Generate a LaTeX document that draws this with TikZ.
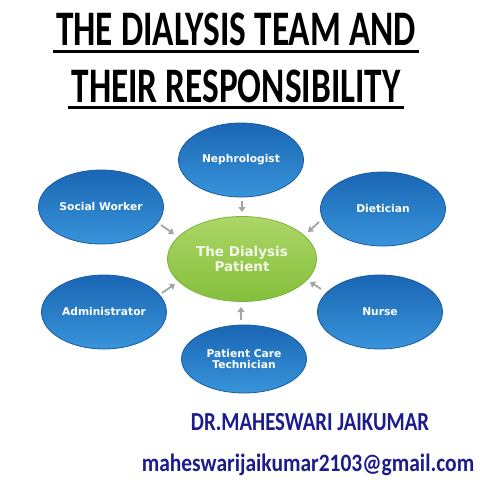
\documentclass[tikz,border=0pt]{standalone}
\usepackage{fontspec}
\setmainfont{Carlito}
\newfontfamily\lblfont{DejaVu Sans}
\usetikzlibrary{shapes.geometric,arrows.meta}
\definecolor{bluedark}{HTML}{1A66B4}
\definecolor{bluelight}{HTML}{3894DA}
\definecolor{blueedge}{HTML}{1B5CA2}
\definecolor{greenlight}{HTML}{ADD667}
\definecolor{greendark}{HTML}{84BF3C}
\definecolor{greenedge}{HTML}{7AB540}
\definecolor{navy}{HTML}{1C1C8C}
\definecolor{arrowgray}{HTML}{A5A5A5}
\definecolor{offwhite}{HTML}{F2F7E8}
\begin{document}
\begin{tikzpicture}[x=1pt,y=-1pt,
  member/.style={ellipse, draw=blueedge, line width=0.8pt, top color=bluedark, bottom color=bluelight,
    minimum width=125pt, minimum height=74pt, inner sep=0pt, text=white, align=center,
    font=\lblfont\bfseries\fontsize{10.7}{11}\selectfont},
  patientbox/.style={ellipse, draw=greenedge, line width=0.8pt, top color=greenlight, bottom color=greendark,
    minimum width=149pt, minimum height=85pt, inner sep=0pt, text=offwhite, align=center,
    font=\lblfont\bfseries\fontsize{13.5}{13}\selectfont},
  feed/.style={draw=arrowgray, line width=1.8pt, -{Triangle[length=5pt,width=7pt]}},
  titletext/.style={anchor=base, inner sep=0pt, font=\bfseries\fontsize{49.7}{50}\selectfont},
  authortext/.style={anchor=base, inner sep=0pt, text=navy}
]
\useasboundingbox (0,0) rectangle (480,480);
\fill[white] (0,0) rectangle (480,480);

% title
\node[titletext] (t1) at (236,45) {\scalebox{0.71}[1]{THE DIALYSIS TEAM AND}};
\node[titletext] (t2) at (236,102) {\scalebox{0.71}[1]{THEIR RESPONSIBILITY}};
\draw[line width=3pt] (53,51) -- (419,51);
\draw[line width=3pt] (68,107) -- (404,107);

% nodes
\node[patientbox] (pat) at (242,259) {The Dialysis\\Patient};
\node[member] (neph) at (241,160) {Nephrologist};
\node[member] (sw) at (101,207) {Social Worker};
\node[member] (diet) at (383,209) {Dietician};
\node[member] (adm) at (104,312) {Administrator};
\node[member] (nurse) at (380,312) {Nurse};
\node[member, minimum height=68pt, font=\lblfont\bfseries\fontsize{10.7}{10.5}\selectfont] (pct) at (244,359) {Patient Care\\Technician};

% arrows
\coordinate (a1s) at (242,201); \coordinate (a1e) at (242,212);
\coordinate (a2s) at (161,225); \coordinate (a2e) at (174,234);
\coordinate (a3s) at (319,222); \coordinate (a3e) at (308,232);
\coordinate (a4s) at (162,293); \coordinate (a4e) at (175,284);
\coordinate (a5s) at (321,289); \coordinate (a5e) at (310,282);
\coordinate (a6s) at (241,320); \coordinate (a6e) at (241,307);
\draw[feed] (a1s) -- (a1e);
\draw[feed] (a2s) -- (a2e);
\draw[feed] (a3s) -- (a3e);
\draw[feed] (a4s) -- (a4e);
\draw[feed] (a5s) -- (a5e);
\draw[feed] (a6s) -- (a6e);

% author
\node[authortext, font=\bfseries\fontsize{26}{26}\selectfont] (auth) at (310,430) {\scalebox{0.8}[1]{DR.MAHESWARI JAIKUMAR}};
\node[authortext, font=\bfseries\fontsize{25}{25}\selectfont] (mail) at (308,471) {\scalebox{0.86}[1]{maheswarijaikumar2103@gmail.com}};
\end{tikzpicture}
\end{document}
